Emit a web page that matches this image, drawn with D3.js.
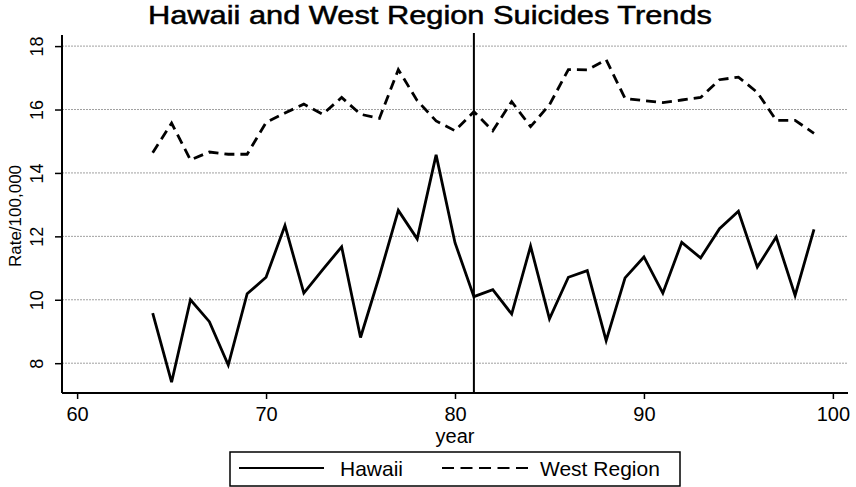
<!DOCTYPE html>
<html>
<head>
<meta charset="utf-8">
<script src="https://cdn.jsdelivr.net/npm/d3@7"></script>
<style>
  body { margin: 0; background: #fff; }
  text { font-family: "Liberation Sans", Arial, sans-serif; fill: #000; }
</style>
</head>
<body>
<script>
// years 1964..1999, shown as 64..99
var years = [64,65,66,67,68,69,70,71,72,73,74,75,76,77,78,79,80,81,82,83,84,85,86,87,88,89,90,91,92,93,94,95,96,97,98,99]

var hawaii = [9.58,7.40,10.0,9.31,7.94,10.19,10.71,12.34,10.21,10.95,11.67,8.81,10.75,12.82,11.92,14.57,11.8,10.1,
              10.32,9.55,11.69,9.40,10.71,10.92,8.71,10.69,11.35,10.21,11.81,11.32,12.24,12.79,11.03,11.98,10.14,12.22]

var westRegion = [14.64,15.57,14.41,14.66,14.59,14.59,15.59,15.89,16.17,15.85,16.38,15.85,15.72,17.26,16.28,15.64,15.33,15.93,
                  15.33,16.25,15.46,16.15,17.26,17.25,17.57,16.35,16.28,16.22,16.3,16.38,16.94,17.02,16.54,15.66,15.66,15.25]

var xTicks = [60,70,80,90,100]
var yTicks = [8,10,12,14,16,18]
var breakYear = 81

const W = 856, H = 487
const margin = {left: 62, right: 8, top: 35, bottom: 94}

var svg = d3.select("body").append("svg")
    .attr("width", W)
    .attr("height", H)

var x = d3.scaleLinear().domain([59.2, 100.8]).range([margin.left, W - margin.right])
var y = d3.scaleLinear().domain([7.06, 18.35]).range([H - margin.bottom, margin.top])

// dotted grid
svg.append("g").selectAll("line")
    .data(yTicks)
    .enter().append("line")
    .attr("x1", margin.left).attr("x2", W - margin.right)
    .attr("y1", d => y(d)).attr("y2", d => y(d))
    .attr("stroke", "#a0a0a0")
    .attr("stroke-width", 1)
    .attr("stroke-dasharray", "2,1")

// y axis, labels turned sideways
var yAxis = svg.append("g")
    .attr("transform", "translate(" + margin.left + ",0)")
    .call(d3.axisLeft(y).tickValues(yTicks).tickSize(7).tickFormat(d3.format("d")))
yAxis.select(".domain").attr("stroke-width", 2).attr("d", "M0," + margin.top + "V" + (H - margin.bottom))
yAxis.selectAll(".tick line").attr("stroke-width", 1.5)
yAxis.selectAll(".tick text")
    .attr("font-size", 18)
    .attr("transform", "rotate(-90)")
    .attr("x", 0).attr("y", -19).attr("dy", 0)
    .attr("text-anchor", "middle")

// x axis
var xAxis = svg.append("g")
    .attr("transform", "translate(0," + (H - margin.bottom) + ")")
    .call(d3.axisBottom(x).tickValues(xTicks).tickSize(6).tickFormat(d3.format("d")))
xAxis.select(".domain").attr("stroke-width", 2).attr("d", "M" + margin.left + ",0H" + (W - margin.right))
xAxis.selectAll(".tick line").attr("stroke-width", 1.5)
xAxis.selectAll(".tick text").attr("font-size", 20).attr("y", 28).attr("dy", 0)

// axis titles
svg.append("text")
    .attr("x", x(80)).attr("y", 443)
    .attr("text-anchor", "middle")
    .attr("font-size", 20)
    .text("year")

svg.append("text")
    .attr("transform", "translate(21,216) rotate(-90)")
    .attr("text-anchor", "middle")
    .attr("font-size", 17)
    .text("Rate/100,000")

svg.append("text")
    .attr("x", 148).attr("y", 24)
    .attr("font-size", 25)
    .attr("textLength", 564)
    .attr("lengthAdjust", "spacingAndGlyphs")
    .attr("stroke", "#000").attr("stroke-width", 0.5)
    .text("Hawaii and West Region Suicides Trends")

// vertical line at 1981
svg.append("line")
    .attr("x1", x(breakYear)).attr("x2", x(breakYear))
    .attr("y1", margin.top - 2).attr("y2", H - margin.bottom)
    .attr("stroke", "#000").attr("stroke-width", 2)

var line = d3.line()
    .x((d, i) => x(years[i]))
    .y(d => y(d))

svg.append("path")
    .datum(westRegion)
    .attr("d", line)
    .attr("fill", "none")
    .attr("stroke", "#000")
    .attr("stroke-width", 2.8)
    .attr("stroke-dasharray", "10,6")

svg.append("path")
    .datum(hawaii)
    .attr("d", line)
    .attr("fill", "none")
    .attr("stroke", "#000")
    .attr("stroke-width", 2.8)

// legend
var leg = svg.append("g")
leg.append("rect")
    .attr("x", 230).attr("y", 452)
    .attr("width", 450).attr("height", 34)
    .attr("fill", "none").attr("stroke", "#000").attr("stroke-width", 1.5)
leg.append("line")
    .attr("x1", 239).attr("x2", 324).attr("y1", 468).attr("y2", 468)
    .attr("stroke", "#000").attr("stroke-width", 2)
leg.append("text")
    .attr("x", 340).attr("y", 476)
    .attr("font-size", 21)
    .text("Hawaii")
leg.append("line")
    .attr("x1", 442).attr("x2", 528).attr("y1", 468).attr("y2", 468)
    .attr("stroke", "#000").attr("stroke-width", 2)
    .attr("stroke-dasharray", "12,6.5")
leg.append("text")
    .attr("x", 540).attr("y", 476)
    .attr("font-size", 21)
    .text("West Region")
</script>
</body>
</html>
